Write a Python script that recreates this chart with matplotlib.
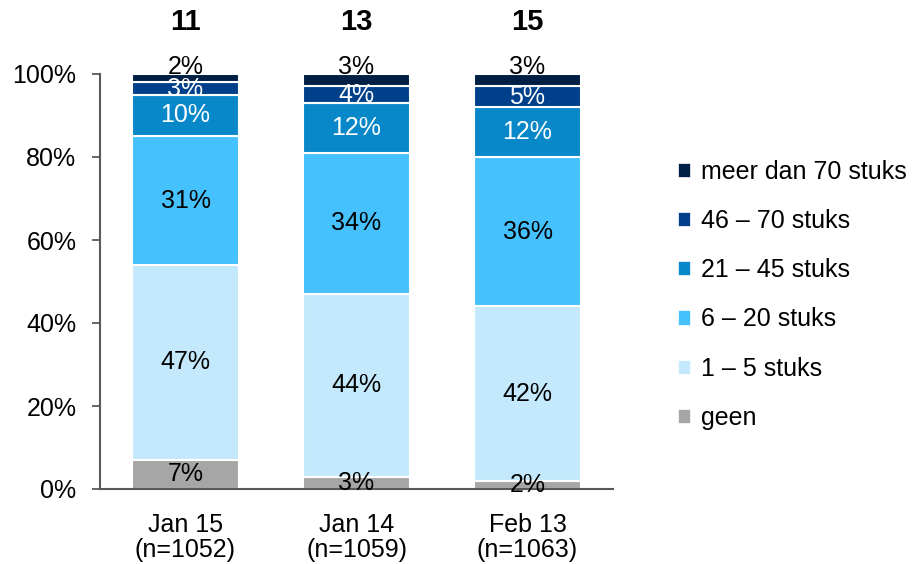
import matplotlib.pyplot as plt
from matplotlib.patches import Patch
import numpy as np

plt.rcParams['font.family'] = ['Liberation Sans', 'DejaVu Sans']

# categorieen (x-as) en totalen boven de staven
periods = ['Jan 15\n(n=1052)', 'Jan 14\n(n=1059)', 'Feb 13\n(n=1063)']
totals = ['11', '13', '15']

# segmenten van onder naar boven
series = ['geen', '1 – 5 stuks', '6 – 20 stuks', '21 – 45 stuks', '46 – 70 stuks', 'meer dan 70 stuks']
geen = [7, 3, 2]
s1_5 = [47, 44, 42]
s6_20 = [31, 34, 36]
s21_45 = [10, 12, 12]
s46_70 = [3, 4, 5]
s70plus = [2, 3, 3]

colors = ['#a6a6a6', '#c4e9fc', '#45c1fd', '#0888c8', '#00408a', '#001f45']
label_colors = ['black', 'black', 'black', 'white', 'white', 'black']

values = [geen, s1_5, s6_20, s21_45, s46_70, s70plus]

fig = plt.figure(figsize=(9.18, 5.64), dpi=100)
ax = fig.add_axes([100 / 918, 75 / 564, 513 / 918, 415 / 564])

x = np.arange(len(periods))
bottom = np.zeros(len(periods))
for i, (vals, col) in enumerate(zip(values, colors)):
    vals = np.array(vals, dtype=float)
    ax.bar(x, vals, 0.625, bottom=bottom, color=col, edgecolor='white', linewidth=1.5)
    for j in range(len(x)):
        if i == len(values) - 1:
            ypos = bottom[j] + vals[j] + 1.7  # bovenste label steekt uit
        else:
            ypos = bottom[j] + vals[j] / 2
        ax.text(x[j], ypos, f'{int(vals[j])}%', ha='center', va='center',
                fontsize=18, color=label_colors[i])
    bottom += vals

for j, t in enumerate(totals):
    ax.text(x[j], 112.5, t, ha='center', va='center', fontsize=21, fontweight='bold',
            clip_on=False)

ax.set_xlim(-0.5, 2.5)
ax.set_ylim(0, 100)
ax.set_yticks([0, 20, 40, 60, 80, 100])
ax.set_yticklabels([f'{v}%' for v in [0, 20, 40, 60, 80, 100]], fontsize=18)
ax.set_xticks(x)
ax.set_xticklabels(periods, fontsize=18, linespacing=1.05)
ax.tick_params(axis='y', length=6, width=1.3, color='#595959', pad=11)
ax.tick_params(axis='x', length=0, pad=17)
for s in ['top', 'right']:
    ax.spines[s].set_visible(False)
for s in ['left', 'bottom']:
    ax.spines[s].set_color('#595959')
    ax.spines[s].set_linewidth(1.5)

handles = [Patch(facecolor=c, edgecolor='white', linewidth=0.5) for c in colors][::-1]
fig.legend(handles, series[::-1], loc='upper left', bbox_to_anchor=(665 / 918, 1 - 147 / 564),
           frameon=False, fontsize=18, handlelength=0.5, handleheight=0.5,
           handletextpad=0.45, labelspacing=1.01, borderpad=0)

fig.savefig('out.png', dpi=100)
